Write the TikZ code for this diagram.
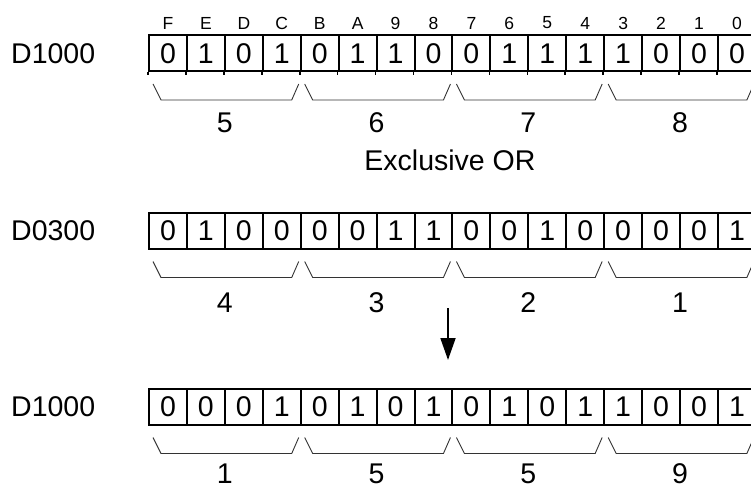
\documentclass[tikz,border=0pt]{standalone}
\usepackage{fontspec}
\setmainfont{Liberation Sans}
\usetikzlibrary{arrows.meta}
\tikzset{
  cell/.style={draw, line width=2pt, minimum width=37.93pt, minimum height=36pt, inner sep=0pt, font=\fontsize{28.5pt}{30pt}\selectfont},
  biglabel/.style={inner sep=0pt, font=\fontsize{28.5pt}{30pt}\selectfont},
  bitlabel/.style={inner sep=0pt, font=\fontsize{17.5pt}{18pt}\selectfont},
  bracepath/.style={line width=0.9pt, black!80},
  tickline/.style={line width=1.6pt},
}
\begin{document}
\begin{tikzpicture}[x=1pt,y=-1pt]
\useasboundingbox (0,0) rectangle (751,489);
% register labels
\node[biglabel, anchor=west] (lab1) at (11,53.5) {D1000};
\node[biglabel, anchor=west] (lab2) at (11,231) {D0300};
\node[biglabel, anchor=west] (lab3) at (11,407) {D1000};
% bit index labels
\foreach \t [count=\i from 0] in {F,E,D,C,B,A,9,8,7,6,5,4,3,2,1,0}
  \node[bitlabel] (bit\i) at ({149+37.93*(\i+0.5)},23) {\t};
% cells
\def\bitsA{0,1,0,1,0,1,1,0,0,1,1,1,1,0,0,0}
\def\bitsB{0,1,0,0,0,0,1,1,0,0,1,0,0,0,0,1}
\def\bitsC{0,0,0,1,0,1,0,1,0,1,0,1,1,0,0,1}
\foreach \b [count=\i from 0] in \bitsA
  \node[cell] (r1-\i) at ({149+37.93*(\i+0.5)},53.5) {\b};
\foreach \b [count=\i from 0] in \bitsB
  \node[cell] (r2-\i) at ({149+37.93*(\i+0.5)},231) {\b};
\foreach \b [count=\i from 0] in \bitsC
  \node[cell] (r3-\i) at ({149+37.93*(\i+0.5)},407) {\b};
% small ticks below first register
\foreach \i in {0,...,15}
  \draw[tickline] (r1-\i.south west) -- ([yshift=-3pt]r1-\i.south west);
% braces
\foreach \r in {1,2,3}
  \foreach \g in {0,1,2,3}{
    \pgfmathtruncatemacro{\L}{4*\g}
    \pgfmathtruncatemacro{\R}{4*\g+3}
    \draw[bracepath] ([xshift=5pt,yshift=-11.5pt]r\r-\L.south west)
      -- ([xshift=13pt,yshift=-27.5pt]r\r-\L.south west)
      -- ([xshift=-10pt,yshift=-27.5pt]r\r-\R.south east)
      -- ([xshift=-3pt,yshift=-11.5pt]r\r-\R.south east);
  }
% hex digits
\foreach \d [count=\g from 0] in {5,6,7,8}
  \node[biglabel] (h1-\g) at ({149+151.72*(\g+0.5)},122.5) {\d};
\foreach \d [count=\g from 0] in {4,3,2,1}
  \node[biglabel] (h2-\g) at ({149+151.72*(\g+0.5)},303) {\d};
\foreach \d [count=\g from 0] in {1,5,5,9}
  \node[biglabel] (h3-\g) at ({149+151.72*(\g+0.5)},474) {\d};
% operation
\node[biglabel] (op) at (450,160.5) {Exclusive OR};
% arrow
\coordinate (arrS) at (448,308);
\coordinate (arrE) at (448,360);
\draw[line width=1.8pt, -{Triangle[length=22pt,width=15pt]}] (arrS) -- (arrE);
\end{tikzpicture}
\end{document}
